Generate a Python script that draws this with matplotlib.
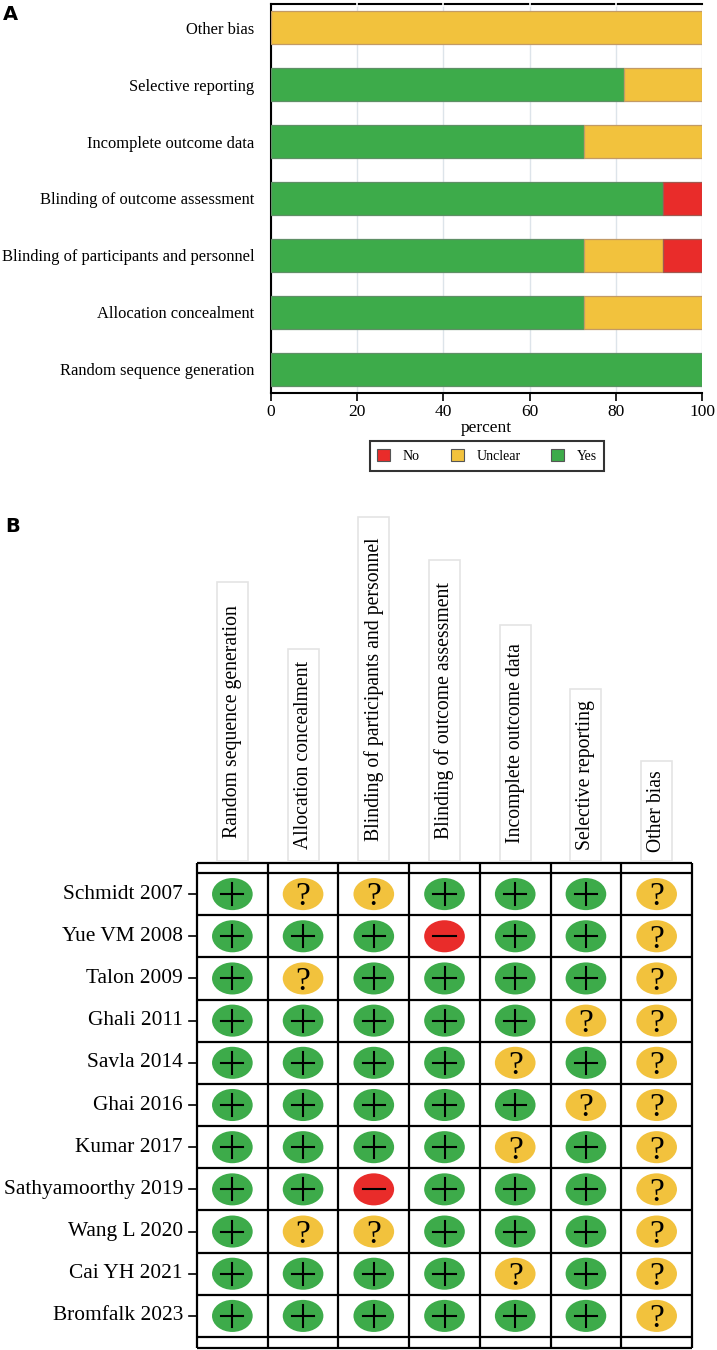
import numpy as np
import matplotlib.pyplot as plt
from matplotlib.patches import Ellipse, Rectangle, Patch
from matplotlib.transforms import IdentityTransform

# risk of bias domains, same order as the columns of panel B
domains = ['Random sequence generation', 'Allocation concealment',
           'Blinding of participants and personnel', 'Blinding of outcome assessment',
           'Incomplete outcome data', 'Selective reporting', 'Other bias']

studies = ['Schmidt 2007', 'Yue VM 2008', 'Talon 2009', 'Ghali 2011', 'Savla 2014',
           'Ghai 2016', 'Kumar 2017', 'Sathyamoorthy 2019', 'Wang L 2020',
           'Cai YH 2021', 'Bromfalk 2023']

# + low risk, ? unclear, - high risk (one character per domain)
judgements = ['+??+++?',
              '+++-++?',
              '+?++++?',
              '+++++??',
              '++++?+?',
              '+++++??',
              '++++?+?',
              '++-+++?',
              '+??+++?',
              '++++?+?',
              '++++++?']

legend_labels = ['No', 'Unclear', 'Yes']

GREEN = '#3dab4a'
YELLOW = '#f2c23d'
RED = '#e92c2a'
SERIF = 'Liberation Serif'

# blank space (px) above and below each rotated header inside its box
header_pad = [23, 12, 20, 22, 18, 11, 9]

W, H = 717, 1350
fig = plt.figure(figsize=(W / 100, H / 100), dpi=100)

# ---------------- panel A: summary bars ----------------
n = len(studies)
marks = np.array([list(j) for j in judgements])
yes = (marks == '+').sum(axis=0) / n * 100
unclear = (marks == '?').sum(axis=0) / n * 100
no = (marks == '-').sum(axis=0) / n * 100

ax_a = fig.add_axes([271 / W, 1 - 393 / H, (702 - 271) / W, (393 - 4) / H])
y = np.arange(len(domains))
left = np.zeros(len(domains))
for vals, col, ec in [(yes, GREEN, '#5f8f66'), (unclear, YELLOW, '#c29a66'), (no, RED, '#a05a50')]:
    m = vals > 0
    ax_a.barh(y[m], vals[m], left=left[m], height=0.58, color=col,
              edgecolor=ec, linewidth=0.9, zorder=3)
    left = left + vals

ax_a.set_xlim(0, 100)
ax_a.set_ylim(-0.42, len(domains) - 0.58)
ax_a.set_xticks(np.arange(0, 101, 20))
ax_a.set_yticks(y)
ax_a.set_yticklabels(domains, fontsize=11.9, family=SERIF)
ax_a.tick_params(axis='y', length=0, pad=12)
ax_a.tick_params(axis='x', length=6, width=1.2, pad=2, labelsize=12.5)
for lab in ax_a.get_xticklabels():
    lab.set_family(SERIF)
ax_a.grid(axis='x', color='#dde4ea', linewidth=1, zorder=0)
ax_a.spines['right'].set_visible(False)
for s in ['left', 'bottom', 'top']:
    ax_a.spines[s].set_linewidth(1.5)
# little white notches where the grid meets the top frame
for gx in [20, 40, 60, 80]:
    ax_a.plot([gx, gx], [len(domains) - 0.62, len(domains) - 0.54], color='white',
              lw=1.2, clip_on=False, zorder=5)
ax_a.set_xlabel('percent', fontsize=12.5, family=SERIF, labelpad=0)

handles = [Patch(facecolor=RED, edgecolor='#555555', lw=0.8),
           Patch(facecolor=YELLOW, edgecolor='#555555', lw=0.8),
           Patch(facecolor=GREEN, edgecolor='#555555', lw=0.8)]
leg = fig.legend(handles, legend_labels, loc='center', bbox_to_anchor=(487 / W, 1 - 456 / H),
                 ncol=3, prop={'family': SERIF, 'size': 10}, frameon=True, fancybox=False,
                 edgecolor='black', handlelength=0.95, handleheight=1.0, handletextpad=0.9,
                 columnspacing=2.2, borderpad=0.55, borderaxespad=0)
leg.get_frame().set_linewidth(1.5)

fig.text(3 / W, 1 - 15 / H, 'A', fontsize=14, fontweight='bold', va='center', ha='left')
fig.text(5 / W, 1 - 527 / H, 'B', fontsize=14, fontweight='bold', va='center', ha='left')

# ---------------- panel B: traffic light grid ----------------
row_px = 42.2
head = 10 / row_px
foot = 11 / row_px
ax_b = fig.add_axes([197 / W, 1 - 1348 / H, (692 - 197) / W, (1348 - 863) / H])
ax_b.set_xlim(0, len(domains))
ax_b.set_ylim(n + foot, -head)
ax_b.axis('off')

lw_grid = 1.6
ax_b.hlines([-head] + list(range(n + 1)) + [n + foot], 0, len(domains), color='black',
            lw=lw_grid, clip_on=False)
ax_b.vlines(range(len(domains) + 1), -head, n + foot, color='black', lw=lw_grid, clip_on=False)

ph = 11 / 70.7   # half size of the plus/minus bars in column units
pv = 11 / row_px
for r, (study, row) in enumerate(zip(studies, judgements)):
    yc = r + 0.5
    ax_b.text(-0.198, yc, study, ha='right', va='center', fontsize=15.4, family=SERIF)
    ax_b.plot([-0.113, 0], [yc, yc], color='black', lw=1.2, clip_on=False)
    for c, j in enumerate(row):
        xc = c + 0.5
        col = {'+': GREEN, '?': YELLOW, '-': RED}[j]
        ax_b.add_patch(Ellipse((xc, yc), 0.575, 0.76, facecolor=col, edgecolor='none', zorder=3))
        if j == '+':
            ax_b.plot([xc - ph, xc + ph], [yc, yc], color='black', lw=1.5, zorder=4)
            ax_b.plot([xc, xc], [yc - pv, yc + pv], color='black', lw=1.5, zorder=4)
        elif j == '-':
            ax_b.plot([xc - ph, xc + ph], [yc, yc], color='black', lw=1.5, zorder=4)
        else:
            ax_b.text(xc, yc + 0.27, '?', ha='center', va='baseline', fontsize=24,
                      family=SERIF, zorder=4)

# rotated column headers in light boxes
fig.canvas.draw()
rend = fig.canvas.get_renderer()
top_disp = H - 861
for c, d in enumerate(domains):
    xc = ax_b.transData.transform((c + 0.5, 0))[0]
    t = fig.text(xc, top_disp + header_pad[c], d, transform=IdentityTransform(), rotation=90,
                 ha='center', va='bottom', fontsize=14.2, family=SERIF)
    L = t.get_window_extent(rend).height
    fig.add_artist(Rectangle((xc - 15.5, top_disp), 31, L + 2 * header_pad[c],
                             transform=IdentityTransform(), fill=False,
                             edgecolor='#e4e4e4', lw=1.2))

fig.savefig('out.png', dpi=100)
